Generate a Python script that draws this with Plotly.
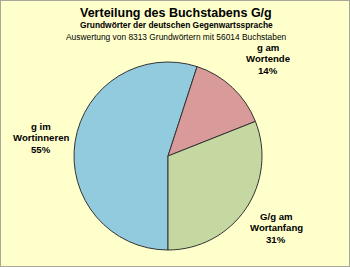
import plotly.graph_objects as go

labels = ["g im Wortinneren", "g am Wortende", "G/g am Wortanfang"]
label_lines = [["g im", "Wortinneren"], ["g am", "Wortende"], ["G/g am", "Wortanfang"]]
values = [55, 14, 31]
colors = ["#92CBDE", "#D99A9A", "#C5D8A1"]

title = "Verteilung des Buchstabens G/g"
subtitle = "Grundwörter der deutschen Gegenwartssprache"
note = "Auswertung von 8313 Grundwörtern mit 56014 Buchstaben"

W, H = 350, 267
cx, cy, r = 168, 156, 94

fig = go.Figure(go.Pie(
    labels=labels, values=values, sort=False, direction="clockwise", rotation=180,
    marker=dict(colors=colors, line=dict(color="#333333", width=1)),
    textinfo="none", hoverinfo="label+percent", showlegend=False,
    domain=dict(x=[(cx - r) / W, (cx + r) / W], y=[(H - cy - r) / H, (H - cy + r) / H]),
))

label_pos = [(41, 126.5), (268, 47.5), (276, 216.5)]
line_step = 11.4
annots = [
    dict(text=f"<b>{title}</b>", x=176 / W, y=1 - 12.5 / H, font=dict(size=12.5)),
    dict(text=f"<b>{subtitle}</b>", x=176 / W, y=1 - 25 / H, font=dict(size=8.4)),
    dict(text=note, x=176 / W, y=1 - 36.5 / H, font=dict(size=8.4)),
]
for (x, y), lines, v in zip(label_pos, label_lines, values):
    for i, t in enumerate(lines + [f"{v}%"]):
        annots.append(dict(text=f"<b>{t}</b>", x=x / W, y=1 - (y + i * line_step) / H,
                           font=dict(size=9.6)))
for a in annots:
    a.update(xref="paper", yref="paper", showarrow=False, xanchor="center", yanchor="middle",
             font=dict(family="Liberation Sans, Arial, sans-serif", color="black", size=a["font"]["size"]))

fig.update_layout(
    width=W, height=H, margin=dict(l=0, r=0, t=0, b=0),
    paper_bgcolor="#FFFFCC", plot_bgcolor="#FFFFCC",
    annotations=annots,
    shapes=[dict(type="rect", xref="paper", yref="paper", x0=0, y0=0, x1=1, y1=1,
                 line=dict(color="#A8A898", width=2))],
)
fig.write_html("out.html")
